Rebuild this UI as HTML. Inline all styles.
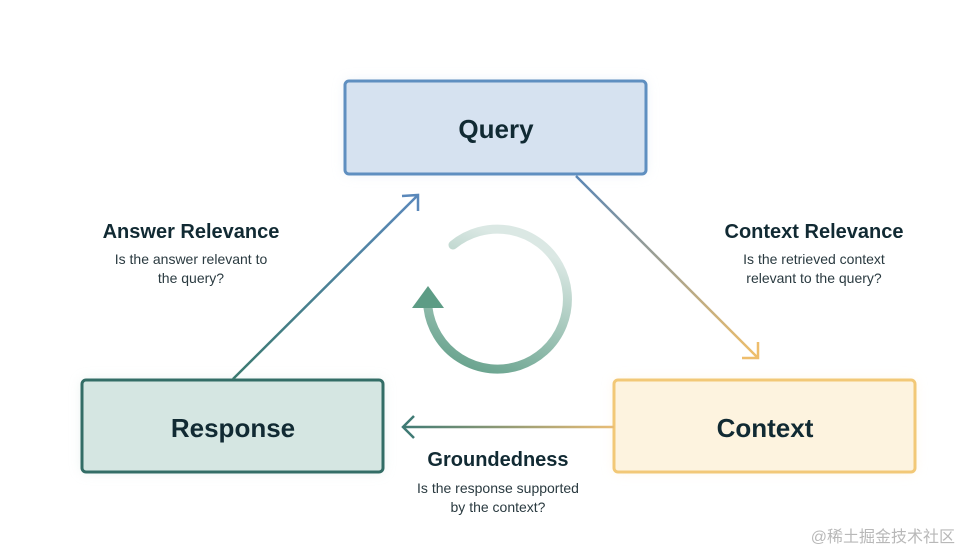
<!DOCTYPE html>
<html><head><meta charset="utf-8"><style>
body{margin:0;background:#fff;}
.t{font-family:"Liberation Sans","Noto Sans CJK SC",sans-serif;}
</style></head><body>
<svg width="964" height="553" xmlns="http://www.w3.org/2000/svg">
<defs>
<linearGradient id="g1" x1="0" y1="0" x2="1" y2="1"><stop offset="0" stop-color="#5a86b5"/><stop offset="1" stop-color="#f0bf6a"/></linearGradient>
<linearGradient id="g2" gradientUnits="userSpaceOnUse" x1="403" y1="427" x2="614" y2="427"><stop offset="0" stop-color="#3f7a74"/><stop offset="1" stop-color="#e9bd76"/></linearGradient>
<linearGradient id="g3" x1="0" y1="1" x2="1" y2="0"><stop offset="0" stop-color="#3b7a70"/><stop offset="1" stop-color="#5a88ba"/></linearGradient>
<linearGradient id="gc" x1="0" y1="1" x2="0.4" y2="0"><stop offset="0" stop-color="#5d9c85"/><stop offset="1" stop-color="#dbe8e4"/></linearGradient>
<filter id="sh" x="-20%" y="-30%" width="140%" height="160%"><feGaussianBlur stdDeviation="6"/></filter>
</defs>
<rect x="345" y="81" width="301" height="93" rx="4" fill="#dbe6f2" filter="url(#sh)" opacity="0.6"/>
<rect x="82" y="380" width="301" height="92" rx="4" fill="#d6e7e3" filter="url(#sh)" opacity="0.6"/>
<rect x="614" y="380" width="301" height="92" rx="4" fill="#fdf0d8" filter="url(#sh)" opacity="0.6"/>
<rect x="345" y="81" width="301" height="93" rx="4" fill="#d6e2f0" stroke="#5f8fc0" stroke-width="3"/>
<rect x="82" y="380" width="301" height="92" rx="4" fill="#d5e6e2" stroke="#336d66" stroke-width="3"/>
<rect x="614" y="380" width="301" height="92" rx="4" fill="#fdf3df" stroke="#f2c877" stroke-width="3"/>
<text x="496" y="138" text-anchor="middle" class="t" font-size="26" font-weight="bold" fill="#112a33">Query</text>
<text x="233" y="437" text-anchor="middle" class="t" font-size="26" font-weight="bold" fill="#112a33">Response</text>
<text x="765" y="437" text-anchor="middle" class="t" font-size="26" font-weight="bold" fill="#112a33">Context</text>
<line x1="233" y1="379" x2="417" y2="196" stroke="url(#g3)" stroke-width="2.5"/>
<polyline points="402,196 418,195 418,211" fill="none" stroke="#5a88ba" stroke-width="2.5"/>
<line x1="576" y1="176" x2="758" y2="358" stroke="url(#g1)" stroke-width="2.5"/>
<polyline points="742,358 758,358 758,342" fill="none" stroke="#eebd6c" stroke-width="2.5"/>
<line x1="614" y1="427" x2="403" y2="427" stroke="url(#g2)" stroke-width="2.5"/>
<polyline points="414,416 403,427 414,438" fill="none" stroke="#3f7a74" stroke-width="2.5"/>
<path d="M453,245 A70,70 0 1 1 428,308" fill="none" stroke="url(#gc)" stroke-width="9" stroke-linecap="round"/>
<polygon points="428,286 412,308 444,308" fill="#5d9c85"/>
<g class="t" text-anchor="middle">
<text x="191" y="238" font-size="20" font-weight="bold" fill="#112a33">Answer Relevance</text>
<text x="191" y="264" font-size="14" fill="#2a3a40">Is the answer relevant to</text>
<text x="191" y="283" font-size="14" fill="#2a3a40">the query?</text>
<text x="814" y="238" font-size="20" font-weight="bold" fill="#112a33">Context Relevance</text>
<text x="814" y="264" font-size="14" fill="#2a3a40">Is the retrieved context</text>
<text x="814" y="283" font-size="14" fill="#2a3a40">relevant to the query?</text>
<text x="498" y="466" font-size="20" font-weight="bold" fill="#112a33">Groundedness</text>
<text x="498" y="493" font-size="14" fill="#2a3a40">Is the response supported</text>
<text x="498" y="512" font-size="14" fill="#2a3a40">by the context?</text>
</g>
<text x="955" y="542" text-anchor="end" class="t" font-size="16" fill="#b8b8b8">@稀土掘金技术社区</text>
</svg>
</body></html>
